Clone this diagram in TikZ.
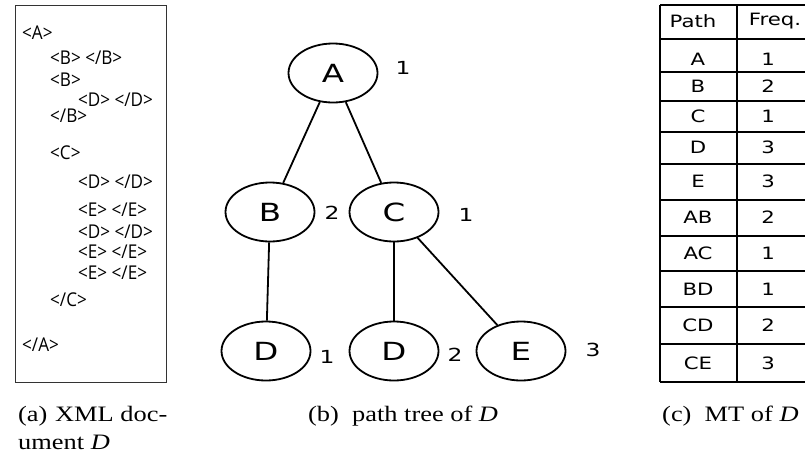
\documentclass[tikz,border=0pt]{standalone}
\usepackage{fontspec}
\setmainfont{Liberation Serif}
\newfontfamily\treefont[FakeStretch=1.3]{DejaVu Sans}
\newfontfamily\tabfont[FakeStretch=1.25]{DejaVu Sans}
\newfontfamily\xmlfont[FakeStretch=0.9]{Open Sans}
\newfontfamily\capfont[FakeStretch=1.2]{Liberation Serif}
\usetikzlibrary{shapes.geometric}
\begin{document}
\begin{tikzpicture}[x=1pt,y=-1pt,
  tnode/.style={draw, ellipse, line width=1.8pt, minimum width=89pt, minimum height=59pt, inner sep=0pt, font=\treefont\fontsize{25}{25}\selectfont},
  tedge/.style={line width=1.8pt},
  cnt/.style={font=\treefont\fontsize{18}{18}\selectfont, inner sep=0pt},
  xml/.style={anchor=west, font=\xmlfont\fontsize{19}{19}\selectfont, inner sep=0pt},
  captext/.style={font=\capfont\fontsize{22}{22}\selectfont, inner sep=0pt, anchor=base west},
  tab/.style={font=\tabfont\fontsize{17}{17}\selectfont, inner sep=0pt},
  tline/.style={line width=1.1pt}
]
\useasboundingbox (0,0) rectangle (805,461);
\fill[white] (0,0) rectangle (805,461);

% (a) XML document
\draw[line width=1pt, black!80] (15,5) rectangle (166,382);
\node[xml] (x1) at (22,33) {<A>};
\node[xml] (x2) at (50,58) {<B> </B>};
\node[xml] (x3) at (50,80) {<B>};
\node[xml] (x4) at (78,100) {<D> </D>};
\node[xml] (x5) at (50,116) {</B>};
\node[xml] (x6) at (50,153) {<C>};
\node[xml] (x7) at (78,182) {<D> </D>};
\node[xml] (x8) at (78,210) {<E> </E>};
\node[xml] (x9) at (78,232) {<D> </D>};
\node[xml] (x10) at (78,252) {<E> </E>};
\node[xml] (x11) at (78,273) {<E> </E>};
\node[xml] (x12) at (50,300) {</C>};
\node[xml] (x13) at (22,345) {</A>};

% (b) path tree
\node[tnode] (A) at (333,73) {A};
\node[tnode] (B) at (270,212) {B};
\node[tnode] (C) at (394,212) {C};
\node[tnode] (D1) at (266,351) {D};
\node[tnode] (D2) at (394,351) {D};
\node[tnode] (E) at (521,351) {E};
\draw[tedge] (A) -- (B);
\draw[tedge] (A) -- (C);
\draw[tedge] (B) -- (D1);
\draw[tedge] (C) -- (D2);
\draw[tedge] (C) -- (E);
\node[cnt] (nA) at (403,68) {1};
\node[cnt] (nB) at (332,213) {2};
\node[cnt] (nC) at (466,215) {1};
\node[cnt] (nD1) at (327,357) {1};
\node[cnt] (nD2) at (455,355) {2};
\node[cnt] (nE) at (593,350) {3};

% (c) MT table
\draw[tline] (660,5) -- (660,382);
\draw[tline] (737,5) -- (737,382);
\foreach \yy in {5,39,72,101,132,164,200,236,271,307,344,382}
  \draw[tline] (660,\yy) -- (805,\yy);
\node[tab] (h1) at (693,21) {Path};
\node[tab] (h2) at (775,21) {Freq.};
\foreach \p/\f/\yy [count=\i] in {A/1/59, B/2/86, C/1/116, D/3/147, E/3/181, AB/2/217, AC/1/253, BD/1/289, CD/2/325, CE/3/363}{
  \node[tab] (p\i) at (698,\yy) {\p};
  \node[tab] (f\i) at (768,\yy) {\f};
}

% captions
\node[captext] (ca1) at (18,421) {(a)\hspace{0.35em}XML doc-};
\node[captext] (ca2) at (18,449) {ument \textit{D}};
\node[captext] (cb) at (308,421) {(b)\hspace{0.6em}path tree of \textit{D}};
\node[captext] (cc) at (662,421) {(c)\hspace{0.6em}MT of \textit{D}};
\end{tikzpicture}
\end{document}
